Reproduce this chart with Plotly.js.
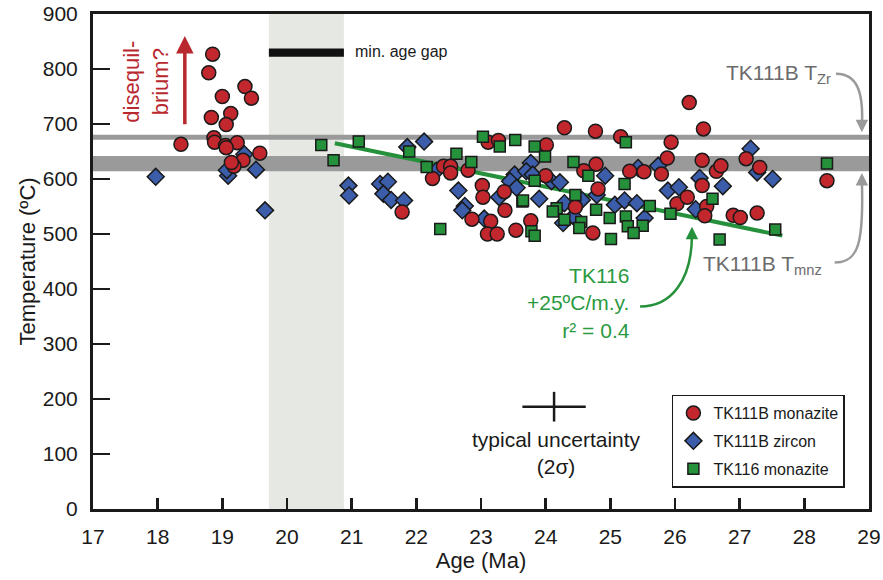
<!DOCTYPE html>
<html>
<head>
<meta charset="utf-8">
<script src="https://cdn.plot.ly/plotly-3.0.1.min.js"></script>
<style>html,body{margin:0;padding:0;background:#fff;}#chart{width:883px;height:580px;}</style>
</head>
<body>
<div id="chart"></div>
<script>
// TK111B monazite
const monAge = [18.85,18.79,19.35,19.45,19.00,19.13,18.83,19.06,18.36,18.87,18.88,19.05,19.23,19.06,19.58,19.32,19.18,19.14,
  23.11,23.27,22.42,22.53,22.53,22.25,22.80,21.78,23.02,23.03,23.36,23.37,22.86,23.15,23.10,23.25,23.54,
  24.29,24.77,25.16,24.01,26.44,25.94,25.88,26.42,24.78,24.59,24.00,25.30,25.52,25.79,26.64,24.81,24.46,23.77,24.73,
  26.03,26.19,26.42,26.49,26.46,26.22,26.71,27.10,27.31,28.35,26.90,27.01,27.27];
const monTemp = [827,793,768,747,750,719,712,699,663,675,667,661,666,657,647,634,623,630,
  667,670,623,623,611,601,616,540,588,567,577,543,527,523,500,500,507,
  693,687,677,662,691,667,638,634,627,615,606,614,613,609,614,582,549,524,502,
  555,567,588,550,533,739,624,637,621,597,534,530,538];
// TK111B zircon
const zrAge = [17.97,19.09,19.07,19.34,19.52,19.66,20.95,20.96,22.12,21.86,21.44,21.56,21.49,21.61,21.81,22.31,
  22.65,22.75,22.71,23.05,23.52,23.45,23.55,23.28,23.77,23.70,23.80,24.09,24.22,24.92,25.43,25.74,
  23.90,24.29,24.56,25.07,25.22,25.41,24.43,24.27,25.53,25.89,26.06,26.38,26.32,24.79,27.17,27.27,27.51,26.74];
const zrTemp = [604,606,616,645,617,543,588,570,668,658,591,595,573,562,561,615,
  579,551,543,528,608,596,584,567,629,614,608,596,594,606,620,624,
  564,556,562,553,561,556,532,520,529,579,585,602,545,571,655,612,600,587];
// TK116 monazite
const tk116Age = [20.53,21.11,20.72,21.89,22.16,22.62,22.85,23.03,23.29,23.53,23.64,22.37,23.83,23.99,25.24,24.43,
  24.66,23.83,25.22,24.46,23.65,24.17,24.11,24.78,24.99,25.24,25.61,25.93,24.29,24.55,24.52,25.27,25.50,
  25.36,23.78,23.83,25.01,26.58,28.35,27.55,26.69];
const tk116Temp = [662,668,634,650,622,646,631,677,659,671,559,509,659,641,667,631,
  606,597,591,571,561,547,541,544,529,532,551,537,526,522,511,514,515,
  502,505,497,491,564,628,508,490];
// TK116 regression line endpoints
const fitAge = [20.74, 27.66];
const fitTemp = [665, 497];
// typical uncertainty cross
const uncAge = [24.13], uncTemp = [186], uncErrAge = [0.49], uncErrTemp = [27];
// reference levels
const tZr = 676;            // TK111B T_Zr line
const tMnz = [614, 642];    // TK111B T_mnz band
const gapAge = [19.72, 20.88]; // min. age gap
const gapBarTemp = 830;
const xTicks = [17,18,19,20,21,22,23,24,25,26,27,28,29];
const yTicks = [0,100,200,300,400,500,600,700,800,900];

const F = 'Liberation Sans, Arial, Helvetica, sans-serif';
const K = '#1a1a1a';
const RED = '#c1272d', BLUE = '#3b5daa', GREEN = '#25913b';
const GTXT = '#2b9a3f', GRAY = '#9a9a9a', GRAYTXT = '#6b6b6b', REDTXT = '#b8282e';

const traces = [
  {x: fitAge, y: fitTemp, mode: 'lines', line: {color: GREEN, width: 4}, showlegend: false, hoverinfo: 'skip'},
  {x: uncAge, y: uncTemp, mode: 'markers', marker: {size: 1, opacity: 0}, showlegend: false, hoverinfo: 'skip',
   error_x: {type: 'data', array: uncErrAge, color: K, thickness: 2.5, width: 0},
   error_y: {type: 'data', array: uncErrTemp, color: K, thickness: 2.5, width: 0}},
  {x: zrAge, y: zrTemp, name: 'TK111B zircon', mode: 'markers', legendrank: 2, legendgroup: 'b',
   marker: {symbol: 'diamond', size: 13, color: BLUE, line: {color: K, width: 1.5}}},
  {x: monAge, y: monTemp, name: 'TK111B monazite', mode: 'markers', legendrank: 1, legendgroup: 'a',
   marker: {symbol: 'circle', size: 14, color: RED, line: {color: K, width: 1.5}}},
  {x: tk116Age, y: tk116Temp, name: 'TK116 monazite', mode: 'markers', legendrank: 3, legendgroup: 'c',
   marker: {symbol: 'square', size: 11, color: GREEN, line: {color: K, width: 1.5}}}
];

function arrowHead(x, y, ay, color) {
  return {x: x, y: y, xref: 'x', yref: 'y', ax: 0, ay: ay, text: '', showarrow: true,
          arrowhead: 2, arrowsize: 1, arrowwidth: 2.5, arrowcolor: color, standoff: 0};
}

const layout = {
  width: 883, height: 580,
  margin: {l: 93, r: 14, t: 14, b: 71, pad: 0},
  paper_bgcolor: '#ffffff', plot_bgcolor: '#ffffff',
  font: {family: F, size: 21, color: K},
  showlegend: true,
  xaxis: {range: [17, 29], tickvals: xTicks, ticks: 'inside', ticklen: 11, tickwidth: 2.5, tickcolor: K,
          showline: true, linewidth: 3, linecolor: K, mirror: true, showgrid: false, zeroline: false,
          tickfont: {size: 21, color: K}, ticklabelstandoff: 7,
          title: {text: 'Age (Ma)', font: {size: 22, color: K}, standoff: 0}},
  yaxis: {range: [0, 900], tickvals: yTicks, ticks: 'inside', ticklen: 17, tickwidth: 2.5, tickcolor: K,
          showline: true, linewidth: 3, linecolor: K, mirror: true, showgrid: false, zeroline: false,
          tickfont: {size: 21, color: K}, ticklabelstandoff: 8,
          title: {text: 'Temperature (ºC)', font: {size: 22, color: K}, standoff: 2}},
  legend: {x: 0.746, y: 0.231, xanchor: 'left', yanchor: 'top', bgcolor: '#ffffff',
           bordercolor: K, borderwidth: 1.5, font: {size: 16, color: K}, traceorder: 'grouped',
           tracegroupgap: 4},
  shapes: [
    {type: 'rect', xref: 'x', yref: 'paper', x0: gapAge[0], x1: gapAge[1], y0: 0, y1: 1,
     fillcolor: '#e6e8e4', line: {width: 0}, layer: 'below'},
    {type: 'rect', xref: 'paper', yref: 'y', x0: 0, x1: 1, y0: tMnz[0], y1: tMnz[1],
     fillcolor: GRAY, line: {width: 0}, layer: 'below'},
    {type: 'line', xref: 'paper', yref: 'y', x0: 0, x1: 1, y0: tZr, y1: tZr,
     line: {color: GRAY, width: 5}, layer: 'below'},
    {type: 'rect', xref: 'x', yref: 'y', x0: gapAge[0], x1: gapAge[1], y0: gapBarTemp - 7.5, y1: gapBarTemp + 7.5,
     fillcolor: '#111111', line: {width: 0}},
    {type: 'path', xref: 'x', yref: 'y', path: 'M 28.49 791.5 C 28.80 791.5, 28.92 762, 28.89 696',
     line: {color: GRAY, width: 2.5}},
    {type: 'path', xref: 'x', yref: 'y', path: 'M 28.47 448 C 28.83 448, 28.92 481, 28.89 596',
     line: {color: GRAY, width: 2.5}},
    {type: 'path', xref: 'x', yref: 'y', path: 'M 25.46 368 C 25.95 368, 26.26 417, 26.262 498',
     line: {color: GREEN, width: 2.5}}
  ],
  annotations: [
    arrowHead(28.89, 685, -14, GRAY),
    arrowHead(28.89, 611, 14, GRAY),
    arrowHead(26.262, 513, 14, GREEN),
    {x: 18.42, y: 860, ax: 18.42, ay: 697, xref: 'x', yref: 'y', axref: 'x', ayref: 'y', text: '',
     showarrow: true, arrowhead: 2, arrowsize: 1, arrowwidth: 3.5, arrowcolor: REDTXT, standoff: 0},
    {x: 17.82, y: 777, xref: 'x', yref: 'y', text: 'disequil-<br>brium?', showarrow: false, textangle: -90,
     font: {size: 22, color: REDTXT}, align: 'center'},
    {x: 21.02, y: 831, xref: 'x', yref: 'y', text: 'min. age gap', showarrow: false, xanchor: 'left',
     yanchor: 'middle', font: {size: 16, color: K}},
    {x: 28.45, y: 791, xref: 'x', yref: 'y', text: 'TK111B T<sub>Zr</sub>', showarrow: false, xanchor: 'right',
     yanchor: 'middle', font: {size: 21, color: GRAYTXT}},
    {x: 28.30, y: 443, xref: 'x', yref: 'y', text: 'TK111B T<sub>mnz</sub>', showarrow: false, xanchor: 'right',
     yanchor: 'middle', font: {size: 21, color: GRAYTXT}},
    {x: 25.34, y: 375, xref: 'x', yref: 'y', text: 'TK116<br>+25ºC/m.y.<br>r² = 0.4', showarrow: false,
     xanchor: 'right', yanchor: 'middle', align: 'right', font: {size: 21, color: GTXT}},
    {x: 24.17, y: 102, xref: 'x', yref: 'y', text: 'typical uncertainty<br>(2σ)', showarrow: false,
     xanchor: 'center', yanchor: 'middle', align: 'center', font: {size: 21, color: K}}
  ]
};

Plotly.newPlot('chart', traces, layout, {displayModeBar: false, responsive: false, staticPlot: true});
</script>
</body>
</html>
